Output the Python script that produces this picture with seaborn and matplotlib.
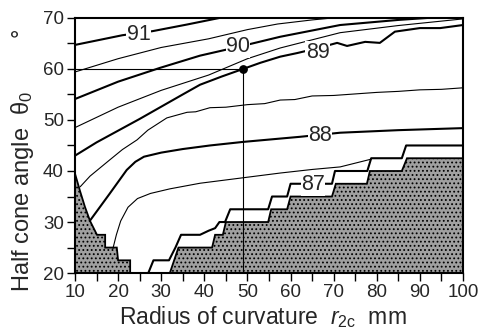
import numpy as np
import pandas as pd
import matplotlib
matplotlib.use("Agg")
import matplotlib.pyplot as plt
import seaborn as sns

# ---- data ----
c91_x = [10, 21, 28, 36, 43.6]
c91_y = [64.7, 66.6, 67.4, 68.7, 70.0]
c905_x = [10, 20, 30, 41, 50, 57, 65, 70]
c905_y = [59.4, 62.0, 64.2, 65.9, 67.7, 68.8, 69.6, 70.0]
c90_x = [10, 20, 29.7, 39, 47.8, 57.6, 71.5, 85, 92]
c90_y = [54.1, 57.5, 60.2, 62.6, 64.3, 66.3, 68.6, 69.6, 70.0]
c895_x = [10, 20, 30, 41, 50, 57.6, 71.5, 85, 100]
c895_y = [48.5, 52.5, 55.8, 58.8, 62.0, 64.1, 67.1, 68.5, 69.8]
c89_x = [10, 15, 20, 25, 30, 35, 39, 44, 49, 53, 57.6, 61.5, 66, 70.8, 73.1, 77.3, 80.7, 84.2, 90, 94.7, 100]
c89_y = [43.0, 45.6, 47.9, 50.2, 52.6, 55.0, 56.9, 58.5, 60.0, 61.2, 62.4, 63.1, 64.0, 65.1, 64.5, 65.3, 65.1, 67.3, 68.0, 68.0, 68.6]
c885_x = [11.2, 13.5, 15.8, 18.1, 21, 24.4, 26.9, 31.3, 33, 36, 38, 41.3, 45, 50, 54, 57.6, 61, 65, 70, 75, 80, 85, 90, 95, 100]
c885_y = [36.9, 39.0, 40.6, 42.2, 44.2, 46.1, 48.0, 50.4, 50.8, 51.5, 51.6, 52.4, 52.5, 53.0, 53.2, 53.9, 54.0, 54.7, 54.8, 55.1, 55.4, 55.6, 55.9, 56.0, 56.3]
c88_x = [13.5, 18, 22, 24, 26, 30, 35, 41.3, 49, 62.2, 71.5, 85, 100]
c88_y = [30.3, 35.5, 40.2, 41.8, 42.8, 43.6, 44.3, 45.0, 45.7, 46.7, 47.5, 48.0, 48.4]
c875_x = [18.8, 19.6, 20.6, 22.3, 24.5, 27.5, 32, 39, 48.3, 57.6, 65, 71.5, 78.6]
c875_y = [24.8, 27.5, 30.2, 32.9, 34.6, 35.6, 36.5, 37.6, 38.6, 39.6, 40.3, 40.8, 42.3]
c87_x = [27, 28.2, 31.8, 33.3, 34.6, 39, 41, 42.5, 43.5, 44.8, 46, 54.8, 55.7, 59.2, 60,
         69.6, 70.3, 77.8, 78.7, 85.8, 86.8, 100]
c87_y = [20, 22.5, 22.5, 25, 27.5, 27.5, 28.3, 28.8, 30, 30, 32.5, 32.5, 35, 35, 37.5,
         37.5, 40, 40, 42.5, 42.5, 45, 45]
shade_left_x = [10, 10, 11.2, 12.3, 13.5, 15.1, 17, 17, 19.7, 20, 22.8, 22.8]
shade_left_y = [20, 39.5, 36, 33, 30.2, 27.5, 27.5, 25, 25, 22.5, 22.5, 20]
shade_right_x = [32, 33, 34, 41.8, 42.5, 44.3, 45, 54.8, 55.5, 59.2, 60, 69.6, 70.5,
                 77.7, 78.4, 85.8, 87, 100, 100]
shade_right_y = [20, 22.5, 25, 25, 27.5, 27.5, 30, 30, 32.5, 32.5, 35, 35, 37.5,
                 37.5, 40, 40, 42.5, 42.5, 20]
point_x, point_y = 49, 60
labels = ["91", "90", "89", "88", "87"]
label_x = [24.8, 47.8, 66.3, 66.8, 65.2]
label_y = [66.7, 64.3, 63.3, 46.9, 37.3]
x_ticks = [10, 20, 30, 40, 50, 60, 70, 80, 90, 100]
y_ticks = [20, 30, 40, 50, 60, 70]

sns.set_theme(style="ticks")
plt.rcParams["font.family"] = ["Liberation Sans", "DejaVu Sans"]
plt.rcParams["mathtext.fontset"] = "custom"
plt.rcParams["mathtext.rm"] = "Liberation Sans"
plt.rcParams["mathtext.it"] = "Liberation Sans:italic"
plt.rcParams["hatch.color"] = "#6a6a6a"
plt.rcParams["hatch.linewidth"] = 0.8

fig = plt.figure(figsize=(4.9, 3.31), dpi=100)
ax = fig.add_axes([0.153, 0.175, 0.792, 0.771])

# shaded regions
ax.fill(shade_left_x, shade_left_y, facecolor="#a0a0a0", edgecolor="black", lw=1.3, hatch="....", zorder=1)
ax.fill(shade_right_x, shade_right_y, facecolor="#a0a0a0", edgecolor="black", lw=1.3, hatch="....", zorder=1)

thick = [(c91_x, c91_y), (c90_x, c90_y), (c89_x, c89_y), (c88_x, c88_y), (c87_x, c87_y)]
thin = [(c905_x, c905_y), (c895_x, c895_y), (c885_x, c885_y), (c875_x, c875_y)]
for xs, ys in thick:
    sns.lineplot(x=xs, y=ys, sort=False, estimator=None, color="black", lw=1.5, ax=ax, zorder=3)
for xs, ys in thin:
    sns.lineplot(x=xs, y=ys, sort=False, estimator=None, color="black", lw=0.8, ax=ax, zorder=3)

# reference lines to design point
ax.plot([10, point_x], [point_y, point_y], color="black", lw=0.8, zorder=2)
ax.plot([point_x, point_x], [20, point_y], color="black", lw=0.8, zorder=2)
ax.scatter([point_x], [point_y], color="black", s=28, zorder=5)

for t, lx, ly in zip(labels, label_x, label_y):
    ax.text(lx, ly, t, fontsize=15.5, ha="center", va="center", zorder=4,
            bbox=dict(facecolor="white", edgecolor="none", pad=0.3))

ax.set_xlim(10, 100)
ax.set_ylim(20, 70)
ax.set_xticks(x_ticks)
ax.set_yticks(y_ticks)
ax.set_xticks(np.arange(15, 100, 10), minor=True)
ax.set_yticks(np.arange(25, 70, 10), minor=True)
ax.tick_params(axis="both", which="major", direction="out", length=6, width=1, labelsize=13.5, color="black", pad=2)
ax.tick_params(axis="both", which="minor", direction="out", length=6, width=1, color="black")
for s in ax.spines.values():
    s.set_linewidth(1.5)
    s.set_color("black")
ax.set_xlabel(r"Radius of curvature  $\mathit{r}_{\mathrm{2c}}$  mm", fontsize=16.5)
ax.xaxis.set_label_coords(0.483, -0.122)
ax.set_ylabel(r"Half cone angle  $\mathrm{θ}_{0}$        °", fontsize=17)
ax.yaxis.set_label_coords(-0.1, 0.44)

fig.savefig("out.png", dpi=100)
